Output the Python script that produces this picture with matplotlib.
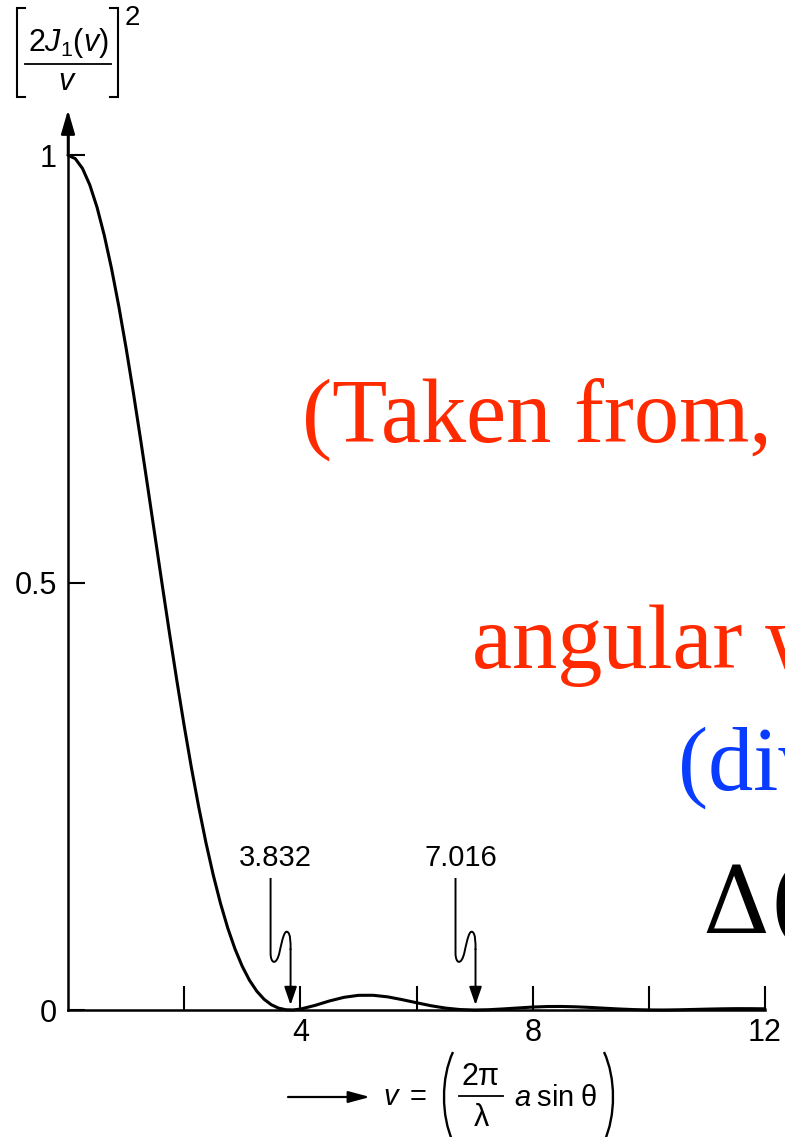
import numpy as np
import matplotlib
matplotlib.use("Agg")
import matplotlib.pyplot as plt
from matplotlib.path import Path
from matplotlib.patches import PathPatch, FancyArrowPatch
from matplotlib.lines import Line2D
from matplotlib.transforms import Affine2D, ScaledTranslation

plt.rcParams["font.family"] = ["Liberation Sans", "DejaVu Sans"]
plt.rcParams["mathtext.fontset"] = "custom"
plt.rcParams["mathtext.rm"] = "Liberation Sans"
plt.rcParams["mathtext.it"] = "Liberation Sans:italic"
plt.rcParams["mathtext.bf"] = "Liberation Sans:bold"

# Airy pattern samples: v and [2 J1(v) / v]^2
v_values = [0.0, 0.125, 0.25, 0.375, 0.5, 0.625, 0.75, 0.875, 1.0, 1.125,
            1.25, 1.375, 1.5, 1.625, 1.75, 1.875, 2.0, 2.125, 2.25, 2.375,
            2.5, 2.625, 2.75, 2.875, 3.0, 3.125, 3.25, 3.375, 3.5, 3.625,
            3.75, 3.875, 4.0, 4.25, 4.5, 4.75, 5.0, 5.25, 5.5, 5.75,
            6.0, 6.25, 6.5, 6.75, 7.0, 7.25, 7.5, 7.75, 8.0, 8.25, 8.5, 8.75,
            9.0, 9.25, 9.5, 9.75, 10.0, 10.25, 10.5, 10.75, 11.0, 11.25, 11.5,
            11.75, 12.0]
intensity = [1.0, 0.99610, 0.98454, 0.96535, 0.93912, 0.90622, 0.86734,
             0.82318, 0.77458, 0.72238, 0.66747, 0.61085, 0.55342, 0.49605,
             0.43961, 0.38490, 0.33261, 0.28334, 0.23773, 0.19578, 0.15814,
             0.12486, 0.09597, 0.07144, 0.05109, 0.03472, 0.02202, 0.01263,
             0.00616, 0.00220, 0.00030, 0.00008, 0.00109, 0.00532, 0.01055,
             0.01481, 0.01717, 0.01723, 0.01542, 0.01216, 0.00851, 0.00498,
             0.00224, 0.00054, 0.0, 0.00036, 0.00130, 0.00238, 0.00344,
             0.00406, 0.00413, 0.00371, 0.00297, 0.00204, 0.00115, 0.00046,
             0.00008, 0.00001, 0.00023, 0.00062, 0.00103, 0.00137, 0.00158,
             0.00156, 0.00139]

# first two zeros of the pattern
zero_positions = [3.832, 7.016]
zero_labels = ["3.832", "7.016"]

x_ticks = [2, 4, 6, 8, 10, 12]
x_tick_labels = ["", "4", "", "8", "", "12"]
y_ticks = [0, 0.5, 1]
y_tick_labels = ["0", "0.5", "1"]

RED = "#ff2a00"
BLUE = "#0a3cff"

W, H = 785, 1137
fig = plt.figure(figsize=(W / 100, H / 100), dpi=100)
# pixel coordinates measured from the top-left corner of the figure
pix = Affine2D().scale(1, -1).translate(0, H)

ax = fig.add_axes([68 / W, (H - 1010) / H, 697 / W, 906 / H])
ax.set_xlim(0, 12)
ax.set_ylim(0, 1.06)

ax.plot(v_values, intensity, color="black", lw=2.2,
        solid_joinstyle="round", solid_capstyle="round", clip_on=False)

for side in ("top", "right"):
    ax.spines[side].set_visible(False)
for side in ("left", "bottom"):
    ax.spines[side].set_linewidth(1.8)
ax.spines["left"].set_bounds(0, 1.03)

ax.set_xticks(x_ticks, x_tick_labels)
ax.set_yticks(y_ticks, y_tick_labels)
ax.tick_params(axis="x", direction="in", length=17, width=1.5, pad=6,
               labelsize=22)
ax.tick_params(axis="y", direction="in", length=12, width=1.5, pad=8,
               labelsize=22)

# arrow head on the vertical axis
ax.annotate("", xy=(0, 1.053), xytext=(0, 1.0), annotation_clip=False,
            arrowprops=dict(arrowstyle="-|>,head_length=1.45,head_width=0.42",
                            lw=1.8, color="black", shrinkA=0, shrinkB=0,
                            mutation_scale=10))

# wiggly arrows pointing at the zeros (offsets in pixels from the zero)
px = 0.72  # points per pixel
wiggle_verts = [(-20, 132), (-20, 57),
                (-20, 46), (-14, 44), (-11, 58),
                (-8, 72), (-6, 80), (-3, 78),
                (0, 76), (0, 68), (0, 60)]
wiggle_codes = [Path.MOVETO, Path.LINETO,
                Path.CURVE4, Path.CURVE4, Path.CURVE4,
                Path.CURVE4, Path.CURVE4, Path.CURVE4,
                Path.CURVE4, Path.CURVE4, Path.CURVE4]
for zx, label in zip(zero_positions, zero_labels):
    trans = Affine2D() + ScaledTranslation(zx, 0, ax.transData)
    ax.add_patch(PathPatch(Path(wiggle_verts, wiggle_codes), fill=False,
                           lw=1.4, edgecolor="black", transform=trans,
                           clip_on=False))
    ax.annotate("", xy=(zx, 0), xytext=(0, 61 * px),
                textcoords="offset points", annotation_clip=False,
                arrowprops=dict(arrowstyle="-|>,head_length=1.1,head_width=0.38",
                                lw=1.4, color="black", shrinkA=0,
                                shrinkB=5 * px, mutation_scale=10))
    ax.annotate(label, xy=(zx, 0), xytext=(-15 * px, 138 * px),
                textcoords="offset points", ha="center", va="bottom",
                fontsize=21, annotation_clip=False)

# ---- vertical axis title: [2 J1(v) / v]^2 ----
fig.text(68, 51, r"$2J_1(v)$", transform=pix, ha="center", va="baseline",
         fontsize=22)
fig.text(67, 90, r"$v$", transform=pix, ha="center", va="baseline",
         fontsize=22)
fig.add_artist(Line2D([25, 111], [64, 64], transform=pix, lw=1.3,
                      color="black"))
fig.add_artist(Line2D([25, 17, 17, 25], [8, 8, 97, 97], transform=pix,
                      lw=1.5, color="black", solid_joinstyle="miter"))
fig.add_artist(Line2D([110, 118, 118, 110], [8, 8, 97, 97], transform=pix,
                      lw=1.5, color="black", solid_joinstyle="miter"))
fig.text(125, 25, "2", transform=pix, ha="left", va="baseline", fontsize=20)

# ---- horizontal axis title: v = (2 pi / lambda  a sin theta) ----
fig.add_artist(FancyArrowPatch((288, 1097), (370, 1097), transform=pix,
                               arrowstyle="-|>,head_length=1.3,head_width=0.35",
                               lw=1.6, color="black", shrinkA=0, shrinkB=0,
                               mutation_scale=10))
fig.text(383, 1097, r"$v\;=$", transform=pix, ha="left", va="center",
         fontsize=21)
fig.text(480, 1085, r"$2\mathrm{\pi}$", transform=pix, ha="center",
         va="baseline", fontsize=22)
fig.add_artist(Line2D([459, 503], [1096, 1096], transform=pix, lw=1.3,
                      color="black"))
fig.text(481, 1126, r"$\mathrm{\lambda}$", transform=pix, ha="center",
         va="baseline", fontsize=22)
fig.text(514, 1106, r"$a\;\mathrm{sin}\;\mathrm{\theta}$", transform=pix,
         ha="left", va="baseline", fontsize=21)
paren_codes = [Path.MOVETO, Path.CURVE4, Path.CURVE4, Path.CURVE4]
fig.add_artist(PathPatch(Path([(453, 1052), (441, 1078), (441, 1116),
                               (453, 1142)], paren_codes),
                         transform=pix, fill=False, lw=1.7,
                         edgecolor="black", capstyle="butt"))
fig.add_artist(PathPatch(Path([(604, 1052), (616, 1078), (616, 1116),
                               (604, 1142)], paren_codes),
                         transform=pix, fill=False, lw=1.7,
                         edgecolor="black", capstyle="butt"))

# slide overlay text
serif = ["Liberation Serif", "DejaVu Serif"]
fig.text(302 / W, 1 - 442 / H, "(Taken from,", color=RED, family=serif,
         fontsize=65, va="baseline", ha="left")
fig.text(472 / W, 1 - 668 / H, "angular width", color=RED, family=serif,
         fontsize=65, va="baseline", ha="left")
fig.text(678 / W, 1 - 790 / H, "(divergence)", color=BLUE, family=serif,
         fontsize=65, va="baseline", ha="left")
fig.text(702 / W, 1 - 932 / H, "\u0394(\u03b8)", color="black",
         family=["DejaVu Serif", "Liberation Serif"],
         fontsize=67, va="baseline", ha="left")

fig.savefig("out.png", dpi=100)
